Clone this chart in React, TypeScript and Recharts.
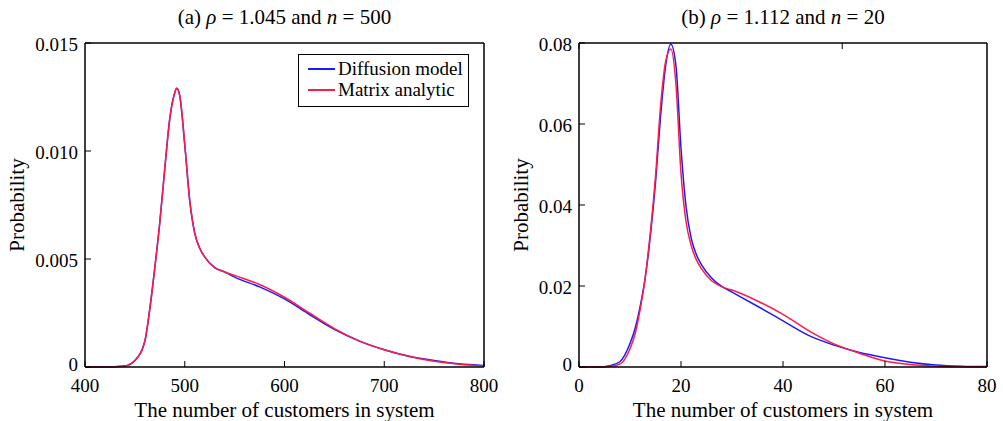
import React from 'react';
import { LineChart, Line, XAxis, YAxis } from 'recharts';

// (a) rho = 1.045, n = 500
const xA = [400, 420, 440, 450, 460, 465, 470, 475, 480, 485, 490, 492, 495, 500, 505, 510, 515, 520, 530, 540, 550, 575, 600, 625, 650, 675, 700, 725, 750, 775, 800];
const diffusionA = [0, 0, 0.00005, 0.0003, 0.0012, 0.0027, 0.0046, 0.0067, 0.0092, 0.0115, 0.0127, 0.0129, 0.01255, 0.0103, 0.0077, 0.0062, 0.0055, 0.0051, 0.0046, 0.0044, 0.00416, 0.00371, 0.00315, 0.00243, 0.00174, 0.0012, 0.0008, 0.0005, 0.0003, 0.00015, 0.00007];
const matrixA = [0, 0, 0.00005, 0.0003, 0.0012, 0.0027, 0.0046, 0.0067, 0.0092, 0.0115, 0.0127, 0.0129, 0.01255, 0.0103, 0.0077, 0.0062, 0.0055, 0.0051, 0.0046, 0.0044, 0.00424, 0.00382, 0.00323, 0.0025, 0.00178, 0.00121, 0.0008, 0.00049, 0.00027, 0.00013, 0.00005];
const xTicksA = [400, 500, 600, 700, 800];
const yTicksA = [0, 0.005, 0.01, 0.015];
const yLabelsA = ['0', '0.005', '0.010', '0.015'];

// (b) rho = 1.112, n = 20
const xB = [0, 4, 6, 8, 10, 11, 12, 13, 14, 15, 16, 17, 18, 19, 20, 21, 22, 23, 24, 26, 28, 30, 35, 40, 45, 50, 55, 60, 65, 70, 75, 80];
const diffusionB = [0, 0, 0.0003, 0.0013, 0.0058, 0.0095, 0.015, 0.0222, 0.0325, 0.0455, 0.062, 0.0745, 0.0797, 0.0745, 0.054, 0.0395, 0.0318, 0.0278, 0.0253, 0.022, 0.0199, 0.0185, 0.015, 0.0114, 0.0078, 0.0054, 0.0036, 0.0023, 0.0012, 0.0005, 0.0002, 0.0001];
const matrixB = [0, 0, 0.0001, 0.0007, 0.0045, 0.0082, 0.0143, 0.0222, 0.0333, 0.047, 0.0645, 0.0755, 0.0785, 0.07, 0.0478, 0.0358, 0.03, 0.0265, 0.0243, 0.0213, 0.0198, 0.019, 0.0163, 0.013, 0.009, 0.0057, 0.0034, 0.0015, 0.0006, 0.0002, 0.00005, 0];
const xTicksB = [0, 20, 40, 60, 80];
const yTicksB = [0, 0.02, 0.04, 0.06, 0.08];
const yLabelsB = ['0', '0.02', '0.04', '0.06', '0.08'];

const seriesNames = ['Diffusion model', 'Matrix analytic'];
const BLUE = '#1a1aff';
const RED = '#ff1a4a';
const FONT = '"Liberation Serif", "Times New Roman", serif';

const tickStyle = { fill: '#000', fontSize: 19, fontFamily: FONT };
const axisLine = { stroke: '#000', strokeWidth: 1.5 };
const tickLine = { stroke: '#000', strokeWidth: 1 };

const LegendBox = () => (
  <div style={{ position: 'absolute', left: 298, top: 54, border: '1px solid #000', background: '#fff', width: 171, height: 53, boxSizing: 'border-box', fontFamily: FONT, fontSize: 19, color: '#000', paddingTop: 3 }}>
    {seriesNames.map((name, i) => (
      <div key={name} style={{ display: 'flex', alignItems: 'center', height: 21 }}>
        <span style={{ display: 'inline-block', width: 27, height: 2, background: i === 0 ? BLUE : RED, marginLeft: 9, marginRight: 3 }} />
        <span>{name}</span>
      </div>
    ))}
  </div>
);

interface PanelProps {
  xs: number[];
  blue: number[];
  red: number[];
  xTicks: number[];
  yTicks: number[];
  yLabels: string[];
  width: number;
  left: number;
  right: number;
}

const Panel: React.FC<PanelProps> = ({ xs, blue, red, xTicks, yTicks, yLabels, width, left, right }) => {
  const data = xs.map((x, i) => ({ x, diffusion: blue[i], matrix: red[i] }));
  const xDomain = [xTicks[0], xTicks[xTicks.length - 1]];
  const yDomain = [yTicks[0], yTicks[yTicks.length - 1]];
  const fmt = (v: number) => yLabels[yTicks.findIndex(t => Math.abs(t - v) < 1e-9)] ?? '';

  // y tick label; the "0" sits a little higher so it clears the x labels
  const renderYTick = (props: any) => {
    const { x, y, payload } = props;
    const lift = payload.value === 0 ? -3 : 1;
    return (
      <text x={x} y={y + lift} dy="0.35em" textAnchor="end" {...tickStyle}>
        {fmt(payload.value)}
      </text>
    );
  };

  // axes are 1px thick so the margins set the plot box
  return (
    <LineChart width={width} height={421} data={data} margin={{ top: 42, right: right - 1, bottom: 53, left: left - 1 }}>
      <XAxis dataKey="x" type="number" domain={xDomain} ticks={xTicks} height={1}
        tick={tickStyle} axisLine={axisLine} tickLine={tickLine} tickSize={-6} tickMargin={18} />
      <XAxis xAxisId="top" orientation="top" type="number" domain={xDomain} ticks={xTicks} height={1}
        tickFormatter={() => ''} axisLine={axisLine} tickLine={tickLine} tickSize={-6} />
      <YAxis type="number" domain={yDomain} ticks={yTicks} width={1}
        tick={renderYTick} axisLine={axisLine} tickLine={tickLine} tickSize={-6} tickMargin={13} />
      <YAxis yAxisId="right" orientation="right" type="number" domain={yDomain} ticks={yTicks} width={1}
        tickFormatter={() => ''} axisLine={axisLine} tickLine={tickLine} tickSize={-6} />
      <Line type="monotone" dataKey="diffusion" name={seriesNames[0]} stroke={BLUE} strokeWidth={1.5} dot={false} isAnimationActive={false} />
      <Line type="monotone" dataKey="matrix" name={seriesNames[1]} stroke={RED} strokeWidth={1.5} dot={false} isAnimationActive={false} />
    </LineChart>
  );
};

const textStyle: React.CSSProperties = { position: 'absolute', fontFamily: FONT, color: '#000', whiteSpace: 'nowrap', lineHeight: 1 };

const App: React.FC = () => (
  <div style={{ position: 'absolute', left: 0, top: 0, width: 1003, height: 421, background: '#fff' }}>
    <div style={{ position: 'absolute', left: 0, top: 0 }}>
      <Panel xs={xA} blue={diffusionA} red={matrixA} xTicks={xTicksA} yTicks={yTicksA} yLabels={yLabelsA}
        width={500} left={85} right={16} />
    </div>
    <div style={{ position: 'absolute', left: 500, top: 0 }}>
      <Panel xs={xB} blue={diffusionB} red={matrixB} xTicks={xTicksB} yTicks={yTicksB} yLabels={yLabelsB}
        width={503} left={79} right={16} />
    </div>
    <LegendBox />

    <div style={{ ...textStyle, left: 85, width: 399, top: 7, textAlign: 'center', fontSize: 21 }}>
      (a) <i>ρ</i> = 1.045 and <i>n</i> = 500
    </div>
    <div style={{ ...textStyle, left: 579, width: 408, top: 7, textAlign: 'center', fontSize: 21 }}>
      (b) <i>ρ</i> = 1.112 and <i>n</i> = 20
    </div>

    <div style={{ ...textStyle, left: 85, width: 399, top: 400, textAlign: 'center', fontSize: 21 }}>
      The number of customers in system
    </div>
    <div style={{ ...textStyle, left: 579, width: 408, top: 400, textAlign: 'center', fontSize: 21 }}>
      The number of customers in system
    </div>

    <div style={{ ...textStyle, left: 17, top: 205, fontSize: 21, transform: 'translate(-50%, -50%) rotate(-90deg)' }}>
      Probability
    </div>
    <div style={{ ...textStyle, left: 521, top: 205, fontSize: 21, transform: 'translate(-50%, -50%) rotate(-90deg)' }}>
      Probability
    </div>
  </div>
);

export default App;
